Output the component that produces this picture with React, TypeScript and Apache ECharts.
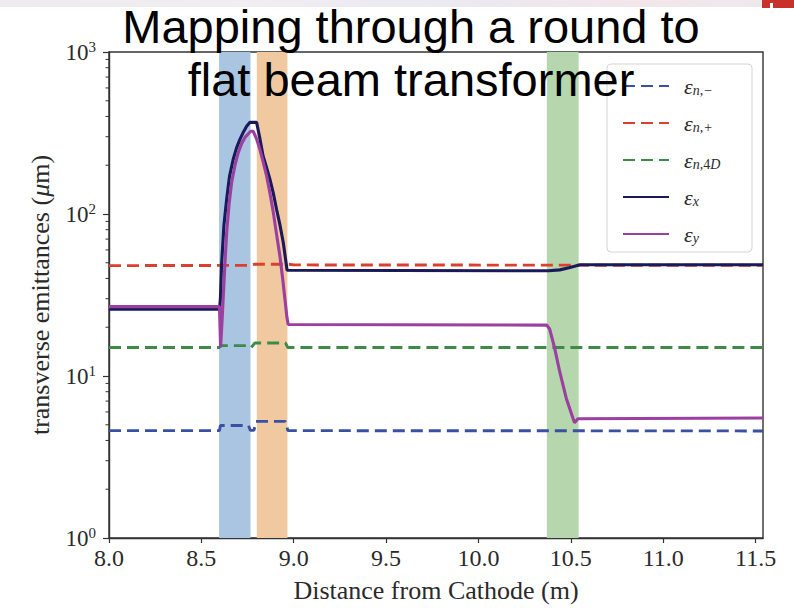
import React, { useEffect, useRef } from "react";
import * as echarts from "echarts";

// ---- data ----
const xTicks = [8.0, 8.5, 9.0, 9.5, 10.0, 10.5, 11.0, 11.5];
const minorTickValues = [2, 3, 4, 5, 6, 7, 8, 9, 20, 30, 40, 50, 60, 70, 80, 90, 200, 300, 400, 500, 600, 700, 800, 900];

const bandStarts = [8.596, 8.8, 10.37];
const bandEnds = [8.766, 8.966, 10.542];

const enMinusX = [8.0, 8.598, 8.603, 8.755, 8.765, 8.785, 8.795, 8.955, 8.968, 11.54];
const enMinusY = [4.6, 4.6, 4.95, 4.95, 4.62, 4.62, 5.25, 5.25, 4.6, 4.58];

const enPlusX = [8.0, 8.76, 8.79, 8.97, 9.0, 11.54];
const enPlusY = [48.0, 48.2, 49.0, 49.0, 48.5, 48.2];

const en4DX = [8.0, 8.598, 8.603, 8.755, 8.77, 8.79, 8.955, 8.968, 11.54];
const en4DY = [15.0, 15.0, 15.4, 15.4, 15.0, 16.0, 16.0, 15.0, 15.0];

const exX = [8.0, 8.598, 8.603, 8.609, 8.622, 8.637, 8.652, 8.672, 8.69, 8.708, 8.727, 8.745, 8.763, 8.799, 8.815, 8.834, 8.852, 8.871, 8.889, 8.907, 8.925, 8.943, 8.964, 10.38, 10.44, 10.49, 10.55, 11.54];
const exY = [25.8, 25.8, 30, 48, 85, 124, 170, 217, 255, 288, 320, 348, 368, 368, 300, 228, 195, 164, 135, 107, 86, 67, 45, 44.6, 45.2, 46.6, 48.6, 48.6];

const eyX = [8.0, 8.598, 8.604, 8.611, 8.618, 8.627, 8.637, 8.65, 8.664, 8.682, 8.7, 8.718, 8.736, 8.767, 8.781, 8.799, 8.817, 8.835, 8.853, 8.871, 8.889, 8.907, 8.925, 8.94, 8.952, 8.963, 8.97, 10.37, 10.385, 10.412, 10.439, 10.475, 10.511, 10.52, 10.538, 11.54];
const eyY = [26.8, 26.8, 15.0, 21, 30, 48, 77, 115, 157, 200, 240, 272, 297, 324, 324, 290, 250, 208, 172, 135, 103, 75, 55, 40, 30, 23, 20.8, 20.6, 19.5, 14.9, 10.7, 7.3, 5.5, 5.15, 5.45, 5.5];

// ---- styling ----
const SERIF = "'Liberation Serif', 'DejaVu Serif', serif";
const TXT = "#2a2a2a";
const bandColors = ["#a9c5e1", "#f1c9a0", "#b6d7ad"];

const legendLabels: Record<string, string> = {
  enMinus: "{e|ε}{s|n,−}",
  enPlus: "{e|ε}{s|n,+}",
  en4D: "{e|ε}{s|n,}{u|4}{s|D}",
  ex: "{e|ε}{s|x}",
  ey: "{e|ε}{s|y}",
};

const pairs = (xs: number[], ys: number[]) => xs.map((x, i) => [x, ys[i]]);

export default function App() {
  const ref = useRef<HTMLDivElement>(null);
  useEffect(() => {
    if (!ref.current) return;
    const chart = echarts.init(ref.current, undefined, { renderer: "svg" });
    const dashed = (name: string, color: string, xs: number[], ys: number[]) => ({
      name,
      type: "line",
      data: pairs(xs, ys),
      symbol: "none",
      showSymbol: false,
      z: 3,
      lineStyle: { color, width: 2.9, type: [12, 6] },
      itemStyle: { color },
    });
    const solid = (name: string, color: string, xs: number[], ys: number[], z: number) => ({
      name,
      type: "line",
      data: pairs(xs, ys),
      symbol: "none",
      showSymbol: false,
      z,
      lineStyle: { color, width: 3.1 },
      itemStyle: { color },
    });
    const option: any = {
      animation: false,
      backgroundColor: "#ffffff",
      grid: {
        left: 109,
        right: 31,
        top: 52,
        bottom: 67,
        show: true,
        borderColor: "#333",
        borderWidth: 1.4,
        backgroundColor: "transparent",
      },
      xAxis: {
        type: "value",
        min: 8,
        max: 11.54,
        interval: 0.5,
        name: "Distance from Cathode (m)",
        nameLocation: "middle",
        nameGap: 39,
        nameTextStyle: { fontFamily: SERIF, fontSize: 26, color: TXT },
        axisLine: { show: true, lineStyle: { color: "#333", width: 1.4 } },
        axisTick: { show: true, length: 5, lineStyle: { color: "#333", width: 1.2 }, customValues: xTicks },
        axisLabel: {
          fontFamily: SERIF,
          fontSize: 24,
          color: TXT,
          margin: 8,
          customValues: xTicks,
          formatter: (v: number) => v.toFixed(1),
        },
        splitLine: { show: false },
      },
      yAxis: {
        type: "log",
        logBase: 10,
        min: 1,
        max: 1000,
        name: "transverse emittances ({i|μ}m)",
        nameLocation: "middle",
        nameGap: 56,
        nameTextStyle: {
          fontFamily: SERIF,
          fontSize: 26,
          color: TXT,
          padding: [0, 0, 0, 0],
          rich: { i: { fontFamily: SERIF, fontSize: 26, fontStyle: "italic", color: TXT } },
        },
        axisLine: { show: true, lineStyle: { color: "#333", width: 1.4 } },
        axisTick: { show: true, length: 6, lineStyle: { color: "#333", width: 1.2 } },
        axisLabel: {
          margin: 13,
          formatter: (v: number) => `{b|10}{s|${Math.round(Math.log10(v))}}`,
          rich: {
            b: { fontFamily: SERIF, fontSize: 23, color: TXT, lineHeight: 26 },
            s: { fontFamily: SERIF, fontSize: 15, color: TXT, verticalAlign: "top", lineHeight: 13 },
          },
        },
        splitLine: { show: false },
      },
      legend: {
        orient: "vertical",
        left: 607,
        top: 75,
        padding: [0, 0, 0, 15],
        itemWidth: 46,
        itemHeight: 14,
        itemGap: 15,
        itemStyle: { opacity: 0, borderWidth: 0 },
        data: ["enMinus", "enPlus", "en4D", "ex", "ey"],
        formatter: (n: string) => legendLabels[n],
        textStyle: {
          color: TXT,
          rich: {
            e: { fontFamily: SERIF, fontStyle: "italic", fontSize: 22, color: TXT, lineHeight: 22, padding: [0, 0, 0, 10] },
            s: { fontFamily: SERIF, fontStyle: "italic", fontSize: 14, color: TXT, verticalAlign: "bottom", lineHeight: 9 },
            u: { fontFamily: SERIF, fontSize: 14, color: TXT, verticalAlign: "bottom", lineHeight: 9 },
          },
        },
      },
      graphic: [
        {
          type: "rect",
          z: 0,
          shape: { x: 0, y: 0, width: 794, height: 7 },
          style: {
            fill: new echarts.graphic.LinearGradient(0, 0, 1, 0, [
              { offset: 0, color: "#eeeaee" },
              { offset: 0.3, color: "#f0eef0" },
              { offset: 0.55, color: "#ebe9f2" },
              { offset: 0.8, color: "#f2e6ea" },
              { offset: 1, color: "#ede9ee" },
            ]),
          },
        },
        { type: "rect", z: 1, shape: { x: 762, y: 0, width: 32, height: 8 }, style: { fill: "#c9302a" } },
        { type: "rect", z: 2, shape: { x: 770, y: 3, width: 3, height: 5 }, style: { fill: "#ffffff" } },
        {
          type: "rect",
          z: 1,
          shape: { x: 607, y: 64, width: 145, height: 188, r: 4 },
          style: { fill: "rgba(255,255,255,0.8)", stroke: "#d4d4d4", lineWidth: 1 },
        },
        {
          type: "text",
          z: 100,
          x: 411,
          y: 0,
          style: {
            text: "Mapping through a round to\nflat beam transformer",
            fontFamily: "'Liberation Sans', Arial, sans-serif",
            fontSize: 47,
            lineHeight: 53,
            fill: "#000",
            textAlign: "center",
            textVerticalAlign: "top",
          },
        },
      ],
      series: [
        {
          name: "bands",
          type: "line",
          data: [],
          z: 1,
          silent: true,
          markArea: {
            silent: true,
            data: bandStarts.map((s, i) => [
              { xAxis: s, itemStyle: { color: bandColors[i], opacity: 1 } },
              { xAxis: bandEnds[i] },
            ]),
          },
        },
        {
          name: "minorTicks",
          type: "custom",
          silent: true,
          clip: false,
          z: 5,
          data: minorTickValues.map((v) => [8, v]),
          encode: { x: 0, y: 1 },
          renderItem: (params: any, api: any) => {
            const p = api.coord([8, api.value(1)]);
            return {
              type: "line",
              shape: { x1: p[0] - 3.5, y1: p[1], x2: p[0], y2: p[1] },
              style: { stroke: "#333", lineWidth: 1 },
            };
          },
        },
        dashed("enMinus", "#3a51a3", enMinusX, enMinusY),
        dashed("enPlus", "#d9402e", enPlusX, enPlusY),
        dashed("en4D", "#3d8b47", en4DX, en4DY),
        solid("ex", "#1a1a5a", exX, exY, 4),
        solid("ey", "#9b3fa0", eyX, eyY, 5),
      ],
    };
    chart.setOption(option);
    return () => chart.dispose();
  }, []);
  return (
    <div
      ref={ref}
      style={{ position: "fixed", left: 0, top: 0, width: 794, height: 608, background: "#fff" }}
    />
  );
}
